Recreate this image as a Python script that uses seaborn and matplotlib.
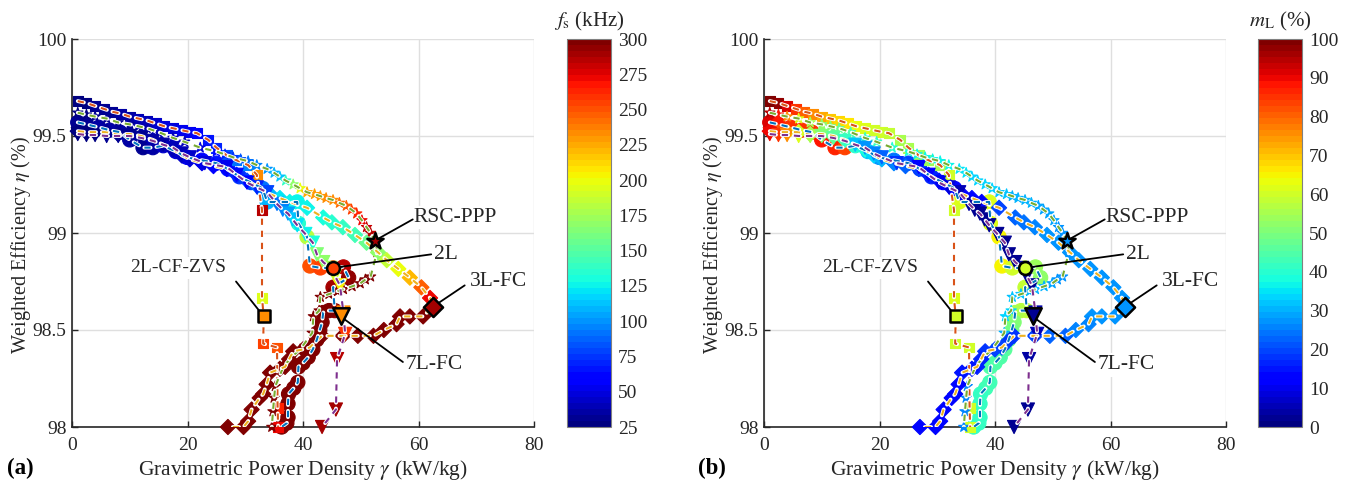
import matplotlib
matplotlib.use("Agg")
import matplotlib.pyplot as plt
import matplotlib.patheffects as pe
import pandas as pd
import seaborn as sns

# 2L-CF-ZVS
zvs_x = [1, 2.5, 4, 5.5, 7, 8.5, 10, 11.5, 13, 14.5, 16, 17.5, 19, 20.5, 21.6, 23.6, 25, 26.8, 28.5, 30.5, 32, 32.9, 32.9, 33.2, 33.1, 35.5, 35.6, 35.7]
zvs_y = [99.68, 99.67, 99.655, 99.64, 99.625, 99.615, 99.6, 99.59, 99.58, 99.565, 99.55, 99.54, 99.53, 99.52, 99.515, 99.48, 99.44, 99.4, 99.375, 99.35, 99.3, 99.12, 98.665, 98.57, 98.43, 98.41, 98.1, 98.0]
zvs_fs = [27, 28, 30, 32, 33, 35, 37, 38, 40, 45, 48, 50, 52, 55, 57, 65, 70, 85, 90, 95, 235, 285, 195, 235, 255, 250, 265, 270]
zvs_ml = [100, 98, 92, 85, 80, 76, 72, 70, 68, 66, 64, 62, 60, 60, 58, 56, 55, 54, 54, 55, 60, 60, 61, 60, 60, 60, 60, 60]

# RSC-PPP
rsc_x = [1, 2.5, 4, 6, 8, 10, 11.5, 13, 15, 17.5, 19.5, 22.2, 25, 26.5, 27.9, 29.2, 30.5, 32, 33.8, 35, 36, 37, 38.3, 39.5, 40.7, 42, 43, 44, 45.2, 46.3, 47.5, 48.4, 49.3, 50.2, 51, 51.7, 52.5, 52.8, 51.7, 50.8, 49.9, 48.5, 47, 46, 44.5, 43, 42.8, 41.8, 41.6, 39.5, 38, 36.6, 35.2, 35, 34.8, 34.6]
rsc_y = [99.62, 99.61, 99.6, 99.59, 99.57, 99.56, 99.55, 99.54, 99.52, 99.49, 99.47, 99.44, 99.42, 99.405, 99.39, 99.38, 99.37, 99.35, 99.33, 99.31, 99.29, 99.27, 99.25, 99.23, 99.21, 99.2, 99.19, 99.18, 99.17, 99.155, 99.14, 99.12, 99.1, 99.065, 99.03, 99.0, 98.96, 98.9, 98.775, 98.76, 98.74, 98.725, 98.71, 98.7, 98.685, 98.67, 98.6, 98.57, 98.485, 98.4, 98.36, 98.31, 98.21, 98.15, 98.08, 98.0]
rsc_fs = [28, 29, 30, 30, 32, 33, 35, 36, 38, 40, 42, 50, 60, 68, 75, 82, 90, 95, 100, 108, 115, 140, 170, 200, 225, 228, 230, 232, 235, 240, 245, 255, 265, 272, 280, 285, 290, 295, 300, 300, 300, 300, 300, 300, 300, 300, 300, 300, 300, 300, 300, 300, 300, 300, 300, 300]
rsc_ml = [95, 88, 75, 62, 56, 52, 50, 47, 45, 42, 41, 40, 38, 37, 37, 37, 36, 36, 35, 35, 34, 34, 33, 33, 32, 32, 31, 31, 30, 30, 29, 29, 29, 29, 28, 28, 27, 28, 28, 28, 29, 30, 30, 31, 32, 32, 33, 33, 31, 29, 28, 27, 26, 26, 26, 26]

# 3L-FC
fc3_x = [1, 2.5, 4, 6, 8, 10, 12, 14, 15.5, 17.5, 19, 20.4, 22.5, 24.5, 26.8, 28.5, 30.3, 32.3, 34.3, 36, 37.7, 40.7, 43.5, 45, 46.9, 49, 51, 53, 54.5, 56.5, 58.5, 60.5, 62, 62.5, 60.8, 58.5, 56.8, 56.2, 54, 52.2, 49.5, 46.9, 43.3, 42.2, 41.2, 40, 38.3, 37.6, 36.9, 36, 34.3, 33.7, 33.1, 32.5, 31.1, 30.5, 29.7, 27]
fc3_y = [99.525, 99.52, 99.52, 99.52, 99.51, 99.51, 99.5, 99.48, 99.46, 99.43, 99.4, 99.38, 99.36, 99.345, 99.33, 99.3, 99.27, 99.235, 99.2, 99.18, 99.16, 99.13, 99.08, 99.055, 99.03, 98.99, 98.95, 98.9, 98.86, 98.815, 98.77, 98.72, 98.665, 98.62, 98.57, 98.57, 98.57, 98.53, 98.5, 98.47, 98.47, 98.47, 98.47, 98.44, 98.41, 98.4, 98.39, 98.35, 98.31, 98.3, 98.28, 98.22, 98.17, 98.15, 98.09, 98.03, 98.0, 98.0]
fc3_fs = [28, 29, 30, 30, 32, 33, 35, 38, 40, 42, 45, 48, 52, 56, 60, 70, 80, 90, 110, 120, 125, 125, 130, 135, 140, 145, 155, 170, 185, 200, 220, 245, 270, 290, 300, 300, 300, 300, 300, 300, 300, 300, 300, 300, 300, 300, 300, 300, 300, 300, 300, 300, 300, 300, 300, 300, 300, 300]
fc3_ml = [90, 82, 70, 60, 56, 52, 48, 45, 42, 38, 34, 30, 26, 22, 20, 17, 15, 13, 12, 13, 14, 20, 22, 24, 26, 28, 28, 28, 28, 28, 28, 28, 28, 28, 28, 28, 27, 26, 25, 23, 22, 20, 18, 18, 20, 19, 18, 17, 16, 15, 15, 14, 14, 14, 14, 13, 13, 13]

# 2L
two_x = [1, 2.5, 4.6, 6.5, 8.3, 10, 12.3, 14, 15.8, 18, 19.9, 22.5, 25, 27, 29, 31, 33, 33.8, 36, 39, 39.2, 40.7, 41.2, 43, 45.2, 47, 47.9, 45.2, 45.5, 44.5, 43.5, 43.3, 42.9, 42.4, 41.7, 40.9, 40, 39.2, 39.1, 38.4, 37.5, 37.4, 37.4, 37.2, 36.3]
two_y = [99.57, 99.56, 99.545, 99.53, 99.52, 99.48, 99.44, 99.44, 99.45, 99.42, 99.39, 99.375, 99.36, 99.33, 99.29, 99.26, 99.23, 99.16, 99.16, 99.16, 99.05, 98.98, 98.83, 98.82, 98.82, 98.825, 98.77, 98.72, 98.6, 98.6, 98.59, 98.54, 98.5, 98.45, 98.4, 98.36, 98.33, 98.31, 98.23, 98.2, 98.17, 98.12, 98.05, 98.02, 98.0]
two_fs = [30, 32, 35, 35, 35, 35, 33, 35, 45, 50, 52, 60, 65, 70, 75, 80, 90, 110, 120, 125, 135, 180, 250, 255, 255, 285, 295, 290, 295, 298, 300, 300, 300, 300, 300, 300, 300, 300, 300, 300, 300, 300, 300, 300, 300]
two_ml = [92, 88, 85, 85, 85, 88, 86, 84, 40, 32, 28, 24, 20, 18, 16, 14, 13, 62, 62, 62, 62, 65, 65, 60, 60, 54, 52, 58, 58, 57, 56, 50, 49, 48, 46, 45, 44, 44, 43, 43, 42, 42, 42, 42, 41]

# 7L-FC
fc7_x = [1, 2.5, 4, 6, 8, 10, 12, 14, 15.8, 17.5, 19, 20.4, 23, 26.8, 28.5, 30.3, 32, 33.8, 35.5, 36.5, 37.4, 38.2, 39, 40.4, 41.7, 42.4, 43.5, 44.7, 45.5, 46.4, 47, 47.3, 45.9, 45.7, 43.3]
fc7_y = [99.51, 99.505, 99.505, 99.5, 99.5, 99.5, 99.49, 99.475, 99.455, 99.44, 99.41, 99.39, 99.36, 99.34, 99.3, 99.26, 99.235, 99.21, 99.15, 99.12, 99.1, 99.07, 99.04, 98.995, 98.95, 98.89, 98.85, 98.82, 98.78, 98.73, 98.59, 98.48, 98.35, 98.09, 98.0]
fc7_fs = [27, 28, 28, 30, 30, 32, 33, 34, 36, 38, 42, 46, 50, 55, 60, 62, 68, 78, 90, 98, 105, 112, 120, 125, 130, 165, 170, 175, 190, 205, 235, 260, 285, 290, 290]
fc7_ml = [90, 85, 75, 62, 55, 50, 46, 42, 32, 28, 25, 22, 18, 14, 12, 10, 8, 6, 4, 3, 3, 3, 2, 2, 2, 2, 2, 2, 2, 3, 4, 5, 4, 3, 3]

# highlighted designs
names = ["2L-CF-ZVS", "RSC-PPP", "3L-FC", "2L", "7L-FC"]
best_x = [33.2, 52.4, 62.5, 45.2, 46.5]
best_y = [98.57, 98.96, 98.62, 98.82, 98.57]
best_fs = [235, 290, 290, 255, 235]
best_ml = [60, 28, 28, 60, 3]

line_colors = ["#D95319", "#77AC30", "#EDB120", "#0072BD", "#7E2F8E"]
markers = ["s", "*", "D", "o", "v"]
sizes = [50, 60, 60, 105, 90]
best_sizes = [65, 150, 95, 85, 140]
name_sizes = [14, 15.5, 15.5, 15.5, 15.5]

# label position (x, y), where the leader line ends
label_pos = [(18.3, 98.82), (59.2, 99.08), (68.9, 98.75), (62.7, 98.89), (57.7, 98.32)]
leader_end = [(28.4, 98.75), (59.0, 99.07), (68.0, 98.73), (62.2, 98.89), (57.3, 98.335)]

fs_ticks = list(range(25, 301, 25))
ml_ticks = list(range(0, 101, 10))

series = [
    pd.DataFrame({"x": zvs_x, "y": zvs_y, "fs": zvs_fs, "ml": zvs_ml}),
    pd.DataFrame({"x": rsc_x, "y": rsc_y, "fs": rsc_fs, "ml": rsc_ml}),
    pd.DataFrame({"x": fc3_x, "y": fc3_y, "fs": fc3_fs, "ml": fc3_ml}),
    pd.DataFrame({"x": two_x, "y": two_y, "fs": two_fs, "ml": two_ml}),
    pd.DataFrame({"x": fc7_x, "y": fc7_y, "fs": fc7_fs, "ml": fc7_ml}),
]
best = pd.DataFrame({"x": best_x, "y": best_y, "fs": best_fs, "ml": best_ml})

sns.set_style("ticks")
plt.rcParams["font.family"] = ["Liberation Serif", "DejaVu Serif"]
plt.rcParams["mathtext.fontset"] = "stix"
plt.rcParams["font.size"] = 14

TEXT = "#262626"
W, H = 1346, 480
jet = plt.get_cmap("jet", 64)

fig = plt.figure(figsize=(W / 100, H / 100), dpi=100)


def panel(left, cleft, col, hue_range, ticks, title, tag, tag_x):
    ax = fig.add_axes([left / W, (H - 427) / H, 462 / W, 388 / H])
    # 2L goes first, its big circles sit under the other curves
    for i in [3, 0, 1, 2, 4]:
        sns.scatterplot(data=series[i], x="x", y="y", hue=col, hue_norm=hue_range, palette=jet,
                        marker=markers[i], s=sizes[i], edgecolor="face", linewidth=0.8,
                        legend=False, clip_on=False, zorder=3, ax=ax)
    for i, df in enumerate(series):
        line = sns.lineplot(data=df, x="x", y="y", sort=False, estimator=None, color=line_colors[i],
                            linestyle=(0, (3, 2.8)), linewidth=1.5, zorder=4, ax=ax).lines[-1]
        line.set_path_effects([pe.Stroke(linewidth=2.8, foreground="white", capstyle="round"), pe.Normal()])
    for i in range(len(names)):
        sns.scatterplot(data=best.iloc[[i]], x="x", y="y", hue=col, hue_norm=hue_range, palette=jet,
                        marker=markers[i], s=best_sizes[i], edgecolor="black", linewidth=1.8,
                        legend=False, zorder=6, ax=ax)
        ax.annotate(names[i], xy=(best_x[i], best_y[i]), xytext=label_pos[i], fontsize=name_sizes[i], color=TEXT,
                    ha="center" if i == 0 else "left", va="center", zorder=5,
                    bbox=dict(fc="white", ec="none", pad=1.5))
        ax.plot([best_x[i], leader_end[i][0]], [best_y[i], leader_end[i][1]], color="black", lw=1.3, zorder=5.5)

    ax.set_xlim(0, 80)
    ax.set_ylim(98, 100)
    ax.set_xticks([0, 20, 40, 60, 80])
    ax.set_yticks([98, 98.5, 99, 99.5, 100])
    ax.set_yticklabels(["98", "98.5", "99", "99.5", "100"])
    ax.grid(True, color="#dfdfdf", lw=1)
    ax.set_axisbelow(True)
    ax.tick_params(direction="in", length=4, width=1, colors=TEXT, labelsize=14)
    ax.tick_params(axis="x", pad=7)
    ax.tick_params(axis="y", pad=4)
    ax.set_xlabel(r"Gravimetric Power Density $\gamma$ (kW/kg)", fontsize=15.5, color=TEXT, labelpad=3)
    ax.set_ylabel(r"Weighted Efficiency $\eta$ (%)", fontsize=14.5, color=TEXT)
    ax.yaxis.set_label_coords(-0.085, 0.47)
    sns.despine(ax=ax)
    for s in ["left", "bottom"]:
        ax.spines[s].set_color(TEXT)
        ax.spines[s].set_linewidth(1.2)

    cax = fig.add_axes([cleft / W, (H - 427) / H, 44 / W, 388 / H])
    sm = plt.cm.ScalarMappable(norm=plt.Normalize(*hue_range), cmap=jet)
    cb = fig.colorbar(sm, cax=cax, ticks=ticks)
    cb.ax.tick_params(length=0, labelsize=14, colors=TEXT, pad=5)
    cb.outline.set_edgecolor("#808080")
    cb.outline.set_linewidth(0.8)
    fig.text((cleft + 22) / W, (H - 21) / H, title, fontsize=15, color=TEXT, ha="center", va="center")
    fig.text(tag_x / W, (H - 468) / H, tag, fontsize=16.5, fontweight="bold", color="black", va="center")


panel(72, 567, "fs", (25, 300), fs_ticks, r"$f_{\mathrm{s}}$ (kHz)", "(a)", 7)
panel(764, 1258, "ml", (0, 100), ml_ticks, r"$m_{\mathrm{L}}$ (%)", "(b)", 698)

fig.savefig("out.png", dpi=100)
